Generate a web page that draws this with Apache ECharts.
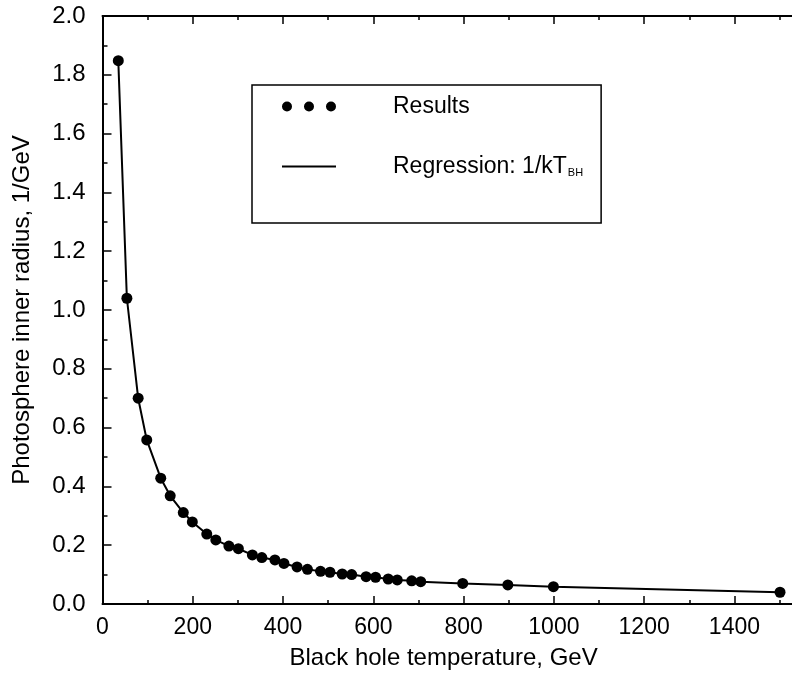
<!DOCTYPE html>
<html><head><meta charset="utf-8">
<script src="https://cdn.jsdelivr.net/npm/echarts@6/dist/echarts.min.js"></script>
<style>html,body{margin:0;padding:0;background:#fff}#c{width:792px;height:677px}</style>
</head><body><div id="c"></div>
<script>
// Black hole temperature, GeV
const temperatures = [35, 54, 79, 98, 129, 150, 179, 199, 231, 251, 280, 301, 332, 353, 382, 402, 431, 454, 483, 504, 531, 552, 584, 605, 633, 653, 685, 705, 798, 898, 999, 1501];
// Photosphere inner radius, 1/GeV
const radii = [1.848, 1.040, 0.700, 0.558, 0.428, 0.368, 0.311, 0.279, 0.238, 0.218, 0.197, 0.188, 0.167, 0.158, 0.150, 0.138, 0.126, 0.118, 0.111, 0.108, 0.102, 0.100, 0.093, 0.091, 0.085, 0.082, 0.079, 0.076, 0.070, 0.065, 0.059, 0.040];
const xTickLabels = ['0', '200', '400', '600', '800', '1000', '1200', '1400'];
const yTickLabels = ['0.0', '0.2', '0.4', '0.6', '0.8', '1.0', '1.2', '1.4', '1.6', '1.8', '2.0'];

const FONT = '"Liberation Sans", Arial, Helvetica, sans-serif';
const pts = temperatures.map((t, i) => [t, radii[i]]);
const chart = echarts.init(document.getElementById('c'), null, {renderer: 'canvas'});
const tickStyle = {color: '#000', width: 1.5};
const xCommon = {
  type: 'value', min: 0, max: 1600, interval: 200,
  axisLine: {show: true, onZero: false, lineStyle: {color: '#000', width: 2}},
  axisTick: {show: true, inside: true, length: 8, lineStyle: tickStyle},
  minorTick: {show: true, splitNumber: 2, length: 4, lineStyle: tickStyle},
  splitLine: {show: false}
};
chart.setOption({
  animation: false,
  color: ['#000'],
  grid: {left: 102.5, top: 16, width: 722.2, height: 588, containLabel: false, outerBoundsMode: 'none'},
  xAxis: [
    Object.assign({}, xCommon, {
      position: 'bottom',
      axisLabel: {color: '#000', fontSize: 23, fontFamily: FONT, margin: 12,
        formatter: v => { const k = Math.round(v / 200); return (Math.abs(v - k * 200) < 1e-6 && xTickLabels[k] !== undefined) ? xTickLabels[k] : ''; }},
      name: 'Black hole temperature, GeV', nameLocation: 'middle', nameGap: 42,
      nameTextStyle: {color: '#000', fontSize: 24, fontFamily: FONT, padding: [0, 40, 0, 0]}
    }),
    Object.assign({}, xCommon, {position: 'top', axisLabel: {show: false}})
  ],
  yAxis: [{
    type: 'value', min: 0, max: 2, interval: 0.2,
    axisLine: {show: true, onZero: false, lineStyle: {color: '#000', width: 2}},
    axisTick: {show: true, inside: true, length: 9, lineStyle: tickStyle},
    minorTick: {show: true, splitNumber: 2, length: 5, lineStyle: tickStyle},
    splitLine: {show: false},
    axisLabel: {color: '#000', fontSize: 24, fontFamily: FONT, margin: 17,
      formatter: v => { const k = Math.round(v / 0.2); return yTickLabels[k] !== undefined ? yTickLabels[k] : ''; }},
    name: 'Photosphere inner radius, 1/GeV', nameLocation: 'middle', nameGap: 68,
    nameTextStyle: {color: '#000', fontSize: 24, fontFamily: FONT}
  }],
  legend: {
    orient: 'vertical', left: 252, top: 85,
    padding: [10, 18, 45, 30], itemGap: 37, itemWidth: 54, itemHeight: 10,
    borderColor: '#000', borderWidth: 1.5, borderRadius: 0,
    selectedMode: false,
    data: [
      {name: 'Results', icon: 'path://M0,5a5,5 0 1,0 10,0a5,5 0 1,0 -10,0zM22,5a5,5 0 1,0 10,0a5,5 0 1,0 -10,0zM44,5a5,5 0 1,0 10,0a5,5 0 1,0 -10,0z'},
      {name: 'Regression', icon: 'path://M0,4h50v2h-50z'}
    ],
    formatter: n => n === 'Results' ? '{a|Results}' : '{a|Regression: 1/kT}{s|BH}',
    textStyle: {color: '#000', fontSize: 23, fontFamily: FONT,
      rich: {
        a: {color: '#000', fontSize: 23, fontFamily: FONT, padding: [0, 0, 0, 52]},
        s: {color: '#000', fontSize: 11, fontFamily: FONT, verticalAlign: 'bottom', padding: [0, 0, 0, 1]}
      }}
  },
  series: [
    {name: 'Regression', type: 'line', data: pts, showSymbol: false, symbol: 'none',
      lineStyle: {color: '#000', width: 2}, itemStyle: {color: '#000'}, z: 2},
    {name: 'Results', type: 'scatter', data: pts, symbol: 'circle', symbolSize: 11,
      itemStyle: {color: '#000', opacity: 1}, z: 3}
  ]
});
</script>
</body></html>
